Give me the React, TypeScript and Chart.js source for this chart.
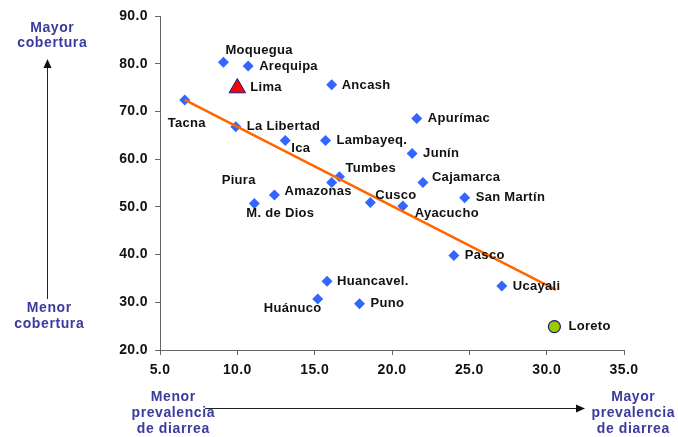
import React, { useEffect, useRef } from "react";
import { Chart, registerables } from "chart.js";

Chart.register(...registerables);

// ---- Data ----
const departamentos = [
  "Moquegua", "Arequipa", "Ancash", "Tacna", "La Libertad", "Ica", "Lambayeq.",
  "Apurímac", "Junín", "Cajamarca", "San Martín", "Tumbes", "Piura", "Amazonas",
  "M. de Dios", "Cusco", "Ayacucho", "Pasco", "Ucayali", "Huancavel.", "Huánuco", "Puno",
];
const prevalenciaDiarrea = [
  9.1, 10.7, 16.1, 6.6, 9.9, 13.1, 15.7, 21.6, 21.3, 22.0, 24.7, 16.6, 16.1, 12.4,
  11.1, 18.6, 20.7, 24.0, 27.1, 15.8, 15.2, 17.9,
];
const cobertura = [
  80.3, 79.5, 75.6, 72.4, 66.8, 63.9, 63.9, 68.5, 61.2, 55.1, 51.9, 56.3, 55.1, 52.5,
  50.7, 50.9, 50.2, 39.8, 33.4, 34.4, 30.7, 29.7,
];
const limaName = "Lima";
const limaX = [10.0];
const limaY = [74.9];
const loretoName = "Loreto";
const loretoX = [30.5];
const loretoY = [24.9];
const tendenciaX = [6.6, 30.6];
const tendenciaY = [72.4, 32.6];
const xTicks = [5, 10, 15, 20, 25, 30, 35];
const yTicks = [20, 30, 40, 50, 60, 70, 80, 90];

// label placement (pixel offsets from the point: left edge, vertical centre)
const labelPlacement: Record<string, [number, number]> = {
  "Moquegua": [2, -12],
  "Arequipa": [11, 0],
  "Lima": [13, -1],
  "Ancash": [10, 1],
  "Tacna": [-17, 23],
  "La Libertad": [11, 0],
  "Ica": [6, 8],
  "Lambayeq.": [11, 0],
  "Tumbes": [6, -8],
  "Piura": [-110, -2],
  "Amazonas": [10, -4],
  "M. de Dios": [-8, 10],
  "Cusco": [5, -7],
  "Ayacucho": [12, 8],
  "Apurímac": [11, 0],
  "Junín": [11, 0],
  "Cajamarca": [9, -5],
  "San Martín": [11, 0],
  "Pasco": [11, 0],
  "Ucayali": [11, 0],
  "Loreto": [14, 0],
  "Huancavel.": [10, 0],
  "Huánuco": [-54, 9],
  "Puno": [11, 0],
};

const FONT = "'Liberation Sans', Arial, sans-serif";
const NOTE_COLOR = "#3b3b9e";

const labelsPlugin = {
  id: "pointLabels",
  beforeDraw(chart: any) {
    chart.ctx.letterSpacing = "0.4px";
  },
  afterDatasetsDraw(chart: any) {
    const ctx = chart.ctx;
    ctx.save();
    ctx.font = `bold 13px ${FONT}`;
    (ctx as any).letterSpacing = "0.3px";
    ctx.fillStyle = "#111111";
    ctx.textAlign = "left";
    ctx.textBaseline = "middle";
    chart.data.datasets.forEach((ds: any, di: number) => {
      if (!ds.names) return;
      const meta = chart.getDatasetMeta(di);
      meta.data.forEach((el: any, i: number) => {
        const name = ds.names[i];
        const off = labelPlacement[name] || [10, 0];
        ctx.fillText(name, el.x + off[0], el.y + off[1]);
      });
    });
    ctx.restore();
  },
  afterDraw(chart: any) {
    const ctx = chart.ctx;
    ctx.save();
    ctx.font = `bold 14px ${FONT}`;
    (ctx as any).letterSpacing = "0.6px";
    ctx.fillStyle = NOTE_COLOR;
    ctx.textAlign = "center";
    ctx.textBaseline = "middle";
    const lines = (arr: string[], x: number, y: number, lh: number) =>
      arr.forEach((t, i) => ctx.fillText(t, x + 0.3, y + i * lh));
    lines(["Mayor", "cobertura"], 52, 28, 15);
    lines(["Menor", "cobertura"], 49, 308, 16);
    lines(["Menor", "prevalencia", "de diarrea"], 173, 397, 16);
    lines(["Mayor", "prevalencia", "de diarrea"], 633, 397, 16);

    ctx.strokeStyle = "#222222";
    ctx.fillStyle = "#111111";
    ctx.lineWidth = 1;
    // vertical arrow
    ctx.beginPath();
    ctx.moveTo(47.5, 299);
    ctx.lineTo(47.5, 66);
    ctx.stroke();
    ctx.beginPath();
    ctx.moveTo(47.5, 59);
    ctx.lineTo(43.5, 68);
    ctx.lineTo(51.5, 68);
    ctx.closePath();
    ctx.fill();
    // horizontal arrow
    ctx.beginPath();
    ctx.moveTo(205, 408.5);
    ctx.lineTo(577, 408.5);
    ctx.stroke();
    ctx.beginPath();
    ctx.moveTo(585, 408.5);
    ctx.lineTo(576, 404.5);
    ctx.lineTo(576, 412.5);
    ctx.closePath();
    ctx.fill();
    ctx.restore();
  },
};

export default function App() {
  const ref = useRef<HTMLCanvasElement | null>(null);
  useEffect(() => {
    if (!ref.current) return;
    const chart = new Chart(ref.current, {
      type: "scatter",
      data: {
        datasets: [
          {
            type: "line",
            label: "Tendencia",
            data: tendenciaX.map((x, i) => ({ x, y: tendenciaY[i] })),
            borderColor: "#ff6600",
            borderWidth: 2.5,
            pointRadius: 0,
            showLine: true,
            fill: false,
          } as any,
          {
            label: "Departamentos",
            names: departamentos,
            data: prevalenciaDiarrea.map((x, i) => ({ x, y: cobertura[i] })),
            pointStyle: "rectRot",
            pointRadius: 5.5,
            backgroundColor: "#3366ff",
            borderColor: "#3366ff",
            borderWidth: 0,
          } as any,
          {
            label: limaName,
            names: [limaName],
            data: limaX.map((x, i) => ({ x, y: limaY[i] })),
            pointStyle: "triangle",
            pointRadius: 9.5,
            backgroundColor: "#ff0000",
            borderColor: "#1a1a80",
            borderWidth: 1,
          } as any,
          {
            label: loretoName,
            names: [loretoName],
            data: loretoX.map((x, i) => ({ x, y: loretoY[i] })),
            pointStyle: "circle",
            pointRadius: 6,
            backgroundColor: "#99cc00",
            borderColor: "#1a1a60",
            borderWidth: 1.2,
          } as any,
        ],
      },
      options: {
        animation: false,
        responsive: false,
        layout: { padding: { left: 0, top: 16, right: 54, bottom: 0 } },
        plugins: { legend: { display: false }, tooltip: { enabled: false } },
        scales: {
          x: {
            type: "linear",
            min: 5,
            max: 35,
            afterFit: (s: any) => { s.height = 87; },
            afterBuildTicks: (s: any) => { s.ticks = xTicks.map((v) => ({ value: v })); },
            ticks: {
              callback: (v: any) => Number(v).toFixed(1),
              font: { family: FONT, size: 14, weight: "bold" },
              color: "#111111",
              padding: 7,
              maxRotation: 0,
            },
            grid: { display: true, drawOnChartArea: false, drawTicks: true, tickLength: 5, color: "#666666" },
            border: { display: true, color: "#666666", width: 1 },
          },
          y: {
            type: "linear",
            min: 20,
            max: 90,
            afterFit: (s: any) => { s.width = 160; },
            afterBuildTicks: (s: any) => { s.ticks = yTicks.map((v) => ({ value: v })); },
            ticks: {
              callback: (v: any) => Number(v).toFixed(1),
              font: { family: FONT, size: 14, weight: "bold" },
              color: "#111111",
              padding: 7,
            },
            grid: { display: true, drawOnChartArea: false, drawTicks: true, tickLength: 5, color: "#666666" },
            border: { display: true, color: "#666666", width: 1 },
          },
        },
      } as any,
      plugins: [labelsPlugin],
    });
    return () => chart.destroy();
  }, []);
  return (
    <div style={{ position: "absolute", left: 0, top: 0, width: 678, height: 437, background: "#fff" }}>
      <canvas ref={ref} width={678} height={437} style={{ display: "block" }} />
    </div>
  );
}
